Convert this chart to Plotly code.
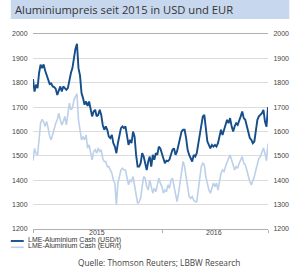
import pandas as pd
import plotly.graph_objects as go

title_text = "Aluminiumpreis seit 2015 in USD und EUR"
source_text = "Quelle: Thomson Reuters; LBBW Research"
series_names = ["LME-Aluminium Cash (USD/t)", "LME-Aluminium Cash (EUR/t)"]

usd = [
    1815, 1764, 1792, 1778, 1840, 1874, 1860, 1875, 1850, 1830, 1805, 1795, 1797,
    1785, 1782, 1775, 1750, 1765, 1785, 1764, 1785, 1778, 1771, 1778, 1812, 1840,
    1860, 1908, 1940, 1960, 1860, 1830, 1758, 1737, 1710, 1723, 1705,
    1723, 1696, 1662, 1682, 1689, 1662, 1668, 1689, 1668, 1627, 1607, 1621, 1607,
    1579, 1573, 1586, 1552, 1538, 1511, 1552, 1593, 1614, 1621, 1614, 1621, 1586,
    1545, 1566, 1552, 1600, 1579, 1504, 1456, 1456, 1470, 1511, 1497, 1470, 1442,
    1477, 1497, 1456, 1504, 1484, 1511, 1504, 1538, 1530, 1510, 1500, 1470, 1480,
    1478, 1485, 1510, 1525, 1531, 1504, 1518, 1545, 1579, 1600, 1607, 1607, 1573,
    1525, 1504, 1490, 1477, 1504, 1497, 1511, 1545, 1579, 1627, 1662, 1668, 1607,
    1559, 1545, 1531, 1545, 1538, 1545, 1538, 1552, 1586, 1607, 1586, 1607, 1627,
    1648, 1634, 1655, 1621, 1600, 1621, 1634, 1627, 1641, 1662, 1682, 1655, 1648,
    1621, 1600, 1573, 1566, 1552, 1559, 1600, 1648, 1662, 1668, 1675, 1689, 1641,
    1620, 1700,
]
eur = [
    1480, 1530, 1511, 1504, 1566, 1634, 1650, 1640, 1621, 1641, 1614, 1579, 1566,
    1593, 1607, 1634, 1648, 1675, 1648, 1627, 1641, 1662, 1627, 1675, 1716, 1689,
    1696, 1730, 1744, 1755, 1648, 1607, 1566, 1579, 1566, 1586, 1532,
    1545, 1511, 1484, 1518, 1525, 1511, 1532, 1518, 1525, 1490, 1477, 1477, 1456,
    1456, 1442, 1429, 1401, 1388, 1299, 1388, 1415, 1442, 1449, 1442, 1442, 1415,
    1381, 1401, 1395, 1415, 1381, 1333, 1305, 1312, 1326, 1374, 1415, 1408, 1374,
    1360, 1401, 1374, 1347, 1367, 1353, 1381, 1408, 1388, 1374, 1347, 1360, 1353,
    1381, 1367, 1401, 1408, 1374, 1333, 1312, 1347, 1388, 1429, 1477, 1456, 1415,
    1360, 1333, 1326, 1333, 1319, 1312, 1312, 1360, 1408, 1456, 1470, 1463, 1415,
    1388, 1360, 1347, 1367, 1388, 1374, 1388, 1360, 1388, 1429, 1442, 1436, 1456,
    1477, 1490, 1504, 1484, 1463, 1442, 1456, 1449, 1470, 1484, 1497, 1470, 1463,
    1442, 1415, 1395, 1381, 1395, 1415, 1442, 1470, 1490, 1497, 1511, 1532, 1511,
    1480, 1550,
]
dates = pd.date_range("2015-01-02", "2016-10-25", periods=len(usd)).strftime("%Y-%m-%d %H:%M").tolist()

y_ticks = [1200, 1300, 1400, 1500, 1600, 1700, 1800, 1900, 2000]
x_label_pos = ["2015-07-02", "2016-05-26"]
x_labels = ["2015", "2016"]
x_bounds = ["2015-01-02", "2016-01-01", "2016-10-25"]

usd_color = "#154e88"
eur_color = "#bcd0ea"

fig = go.Figure()
fig.add_trace(go.Scatter(x=dates, y=eur, mode="lines", name=series_names[1],
                         line=dict(color=eur_color, width=1.6), yaxis="y2"))
fig.add_trace(go.Scatter(x=dates, y=usd, mode="lines", name=series_names[0],
                         line=dict(color=usd_color, width=1.9)))

W, H = 301, 267
L, R, T, B = 24, 23, 34, 38
pw, ph = W - L - R, H - T - B

def px(x):
    return (x - L) / pw

def py(y):
    return (H - B - y) / ph

tickfont = dict(family="Liberation Sans, Arial", size=7, color="#444")
yax = dict(range=[1200, 2000], tickvals=y_ticks, showgrid=True, gridcolor="#dcdcdc",
           gridwidth=1, zeroline=False, tickfont=tickfont, ticks="outside",
           ticklen=3, tickcolor="rgba(0,0,0,0)", fixedrange=True)

fig.update_layout(
    width=W, height=H, margin=dict(l=L, r=R, t=T, b=B, pad=0),
    paper_bgcolor="white", plot_bgcolor="white", showlegend=False,
    xaxis=dict(range=[x_bounds[0], x_bounds[-1]], tickvals=x_bounds, ticktext=["", "", ""],
               ticks="outside", ticklen=3, tickcolor="#b0b0b0",
               showgrid=False, zeroline=False, showline=True, mirror=True,
               linecolor="#b0b0b0", linewidth=1,
               tickfont=dict(family="Liberation Sans, Arial", size=7, color="#444")),
    yaxis=dict(**yax, side="left"),
    yaxis2=dict(**yax, side="right", overlaying="y", matches="y"),
)
fig.update_layout(yaxis2=dict(showgrid=False))

# year labels placed close under the axis, as in the original
for pos, lab in zip(x_label_pos, x_labels):
    fig.add_annotation(text=lab, xref="x", yref="paper", x=pos, y=py(232.5),
                       xanchor="center", yanchor="middle", showarrow=False,
                       font=dict(family="Liberation Sans, Arial", size=7, color="#444"))

# title bar
fig.add_shape(type="rect", xref="paper", yref="paper", x0=px(0), x1=px(W), y0=py(19), y1=py(0),
              fillcolor="#c7d7ee", line=dict(width=0), layer="below")
fig.add_annotation(text=title_text, xref="paper", yref="paper", x=px(2), y=py(9.5),
                   xanchor="left", yanchor="middle", showarrow=False,
                   font=dict(family="Open Sans", size=11.2, color="#333"))

# legend
for i, (name, col, wdt) in enumerate([(series_names[0], usd_color, 1.9), (series_names[1], eur_color, 1.6)]):
    yy = 241 + i * 6.3
    fig.add_shape(type="line", xref="paper", yref="paper", x0=px(0), x1=px(14), y0=py(yy), y1=py(yy),
                  line=dict(color=col, width=wdt))
    fig.add_annotation(text=name, xref="paper", yref="paper", x=px(16), y=py(yy - 1),
                       xanchor="left", yanchor="middle", showarrow=False,
                       font=dict(family="Liberation Sans, Arial", size=7, color="#333"))

fig.add_annotation(text=source_text, xref="paper", yref="paper", x=px(160), y=py(262.5),
                   xanchor="center", yanchor="middle", showarrow=False,
                   font=dict(family="Open Sans", size=8.3, color="#444"))

fig.write_html("out.html")
